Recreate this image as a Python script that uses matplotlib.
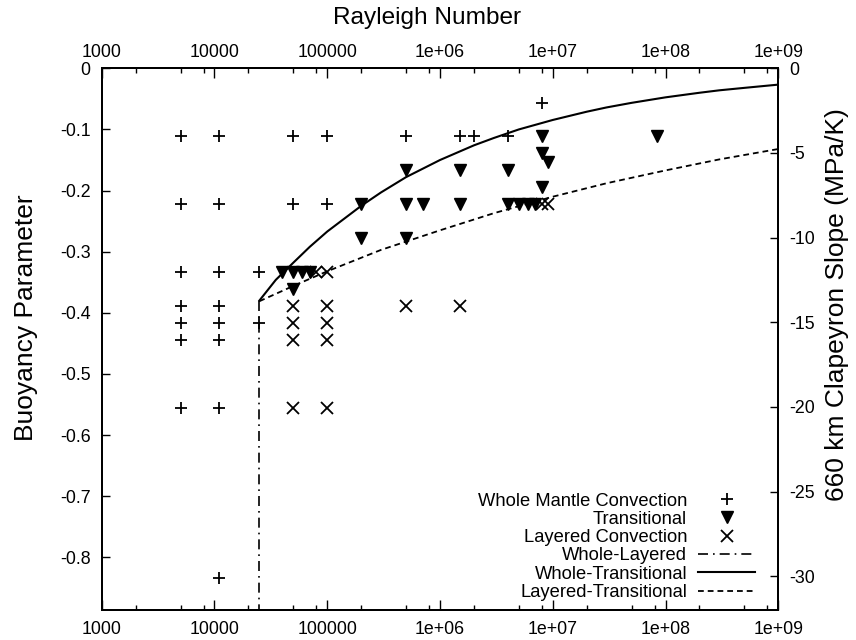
import matplotlib
matplotlib.use("Agg")
import matplotlib.pyplot as plt
from matplotlib.ticker import FixedLocator, FixedFormatter, NullFormatter

plt.rcParams['font.family'] = ['Liberation Sans', 'DejaVu Sans']
plt.rcParams['axes.unicode_minus'] = False

# ---------------- data ----------------
# Whole mantle convection (+)
whole_ra = [5e3, 1.1e4, 5e4, 1e5, 5e5, 1.5e6, 2e6, 4e6,
            5e3, 1.1e4, 5e4, 1e5,
            5e3, 1.1e4, 2.5e4,
            5e3, 1.1e4,
            5e3, 1.1e4, 2.5e4,
            5e3, 1.1e4,
            5e3, 1.1e4,
            1.1e4,
            8e6]
whole_b = [-0.111] * 8 + [-0.222] * 4 + [-0.333] * 3 + [-0.389] * 2 + \
          [-0.417] * 3 + [-0.444] * 2 + [-0.556] * 2 + [-0.833] + [-0.056]

# Transitional (filled down triangles)
trans_ra = [2e5, 5e5, 5e5, 7e5, 2e5, 5e5,
            4e4, 5e4, 6e4, 7e4, 5e4,
            1.5e6, 4e6, 8e6, 8e6, 9e6, 8e6, 8.4e7,
            1.5e6, 4e6, 5e6, 6e6, 7e6]
trans_b = [-0.222, -0.167, -0.222, -0.222, -0.278, -0.278,
           -0.333, -0.333, -0.333, -0.333, -0.361,
           -0.167, -0.167, -0.111, -0.139, -0.153, -0.194, -0.111,
           -0.222, -0.222, -0.222, -0.222, -0.222]

# Layered convection (x)
layer_ra = [8e4, 1e5, 5e4, 1e5, 5e5, 1.5e6, 5e4, 1e5, 5e4, 1e5, 5e4, 1e5, 8e6, 9e6]
layer_b = [-0.333, -0.333, -0.389, -0.389, -0.389, -0.389, -0.417, -0.417,
           -0.444, -0.444, -0.556, -0.556, -0.222, -0.222]

# Boundary curves
wl_ra = [2.5e4, 2.5e4]
wl_b = [-0.380, -0.90]

wt_ra = [2.5e4, 3.5e4, 5e4, 7e4, 1e5, 2e5, 3e5, 5e5, 1e6, 2e6, 3e6, 5e6,
         1e7, 2e7, 3e7, 5e7, 1e8, 2e8, 3e8, 5e8, 1e9]
wt_b = [-0.380, -0.346, -0.318, -0.292, -0.267, -0.225, -0.203, -0.178,
        -0.150, -0.126, -0.114, -0.100, -0.0845, -0.071, -0.064, -0.0565,
        -0.0475, -0.040, -0.036, -0.032, -0.0267]

lt_ra = [2.5e4, 5e4, 1e5, 3e5, 1e6, 3e6, 1e7, 3e7, 1e8, 3e8, 1e9]
lt_b = [-0.381, -0.356, -0.332, -0.297, -0.265, -0.237, -0.210, -0.188,
        -0.167, -0.149, -0.132]

x_ticks = [1e3, 1e4, 1e5, 1e6, 1e7, 1e8, 1e9]
x_labels = ['1000', '10000', '100000', '1e+06', '1e+07', '1e+08', '1e+09']
y_ticks = [0, -0.1, -0.2, -0.3, -0.4, -0.5, -0.6, -0.7, -0.8]
y_labels = ['0', '-0.1', '-0.2', '-0.3', '-0.4', '-0.5', '-0.6', '-0.7', '-0.8']
y2_ticks = [0, -5, -10, -15, -20, -25, -30]
y2_labels = ['0', '-5', '-10', '-15', '-20', '-25', '-30']

# ---------------- figure ----------------
fig = plt.figure(figsize=(8.56, 6.4), dpi=100)
ax_w = 778.3 - 101.7
ax_h = 610 - 68.3
ax = fig.add_axes([101.7 / 856, 30 / 640, ax_w / 856, ax_h / 640])

fs = 12.8
ax.plot(whole_ra, whole_b, linestyle='none', marker='+', markersize=8.5,
        markeredgewidth=1.3, color='black', label='Whole Mantle Convection')
ax.plot(trans_ra, trans_b, linestyle='none', marker='v', markersize=8.5,
        color='black', label='Transitional')
ax.plot(layer_ra, layer_b, linestyle='none', marker='x', markersize=8.5,
        markeredgewidth=1.3, color='black', label='Layered Convection')
ax.plot(wl_ra, wl_b, color='black', lw=1.2, dashes=(6, 3, 1, 3), label='Whole-Layered')
ax.plot(wt_ra, wt_b, color='black', lw=1.5, label='Whole-Transitional')
ax.plot(lt_ra, lt_b, color='black', lw=1.3, dashes=(3.2, 2.2), label='Layered-Transitional')

ax.set_xscale('log')
ax.set_xlim(1e3, 1e9)
ax.set_ylim(-0.886, 0)

minor = [m * 10 ** e for e in range(3, 9) for m in (2, 5, 8)]

ax.xaxis.set_major_locator(FixedLocator(x_ticks))
ax.xaxis.set_major_formatter(FixedFormatter(x_labels))
ax.xaxis.set_minor_locator(FixedLocator(minor))
ax.xaxis.set_minor_formatter(NullFormatter())
ax.yaxis.set_major_locator(FixedLocator(y_ticks))
ax.yaxis.set_major_formatter(FixedFormatter(y_labels))

ax.tick_params(axis='x', which='both', direction='in', top=False, labeltop=False,
               bottom=True, labelbottom=True, labelsize=fs, pad=8)
ax.tick_params(axis='x', which='major', length=7, width=1.0)
ax.tick_params(axis='x', which='minor', length=3.5, width=1.0)
ax.tick_params(axis='y', which='major', direction='in', length=6, width=1.0,
               labelsize=fs, pad=8, left=True, right=False)

# top axis (mirrored Rayleigh number scale)
top = ax.secondary_xaxis('top')
top.xaxis.set_major_locator(FixedLocator(x_ticks))
top.xaxis.set_major_formatter(FixedFormatter(x_labels))
top.xaxis.set_minor_locator(FixedLocator(minor))
top.xaxis.set_minor_formatter(NullFormatter())
top.tick_params(axis='x', which='both', direction='in', labelsize=fs, pad=5)
top.tick_params(axis='x', which='major', length=7, width=1.0)
top.tick_params(axis='x', which='minor', length=3.5, width=1.0)
top.spines['top'].set_linewidth(1.4)

for s in ax.spines.values():
    s.set_linewidth(1.4)

ax2 = ax.twinx()
ax2.set_ylim(-32.0, 0)
ax2.yaxis.set_major_locator(FixedLocator(y2_ticks))
ax2.yaxis.set_major_formatter(FixedFormatter(y2_labels))
ax2.tick_params(axis='y', which='major', direction='in', length=6, width=1.0,
                labelsize=fs, pad=8)
for s in ax2.spines.values():
    s.set_linewidth(1.4)

ax.set_ylabel('Buoyancy Parameter', fontsize=19)
ax.yaxis.set_label_coords(-(101.7 - 38) / ax_w, (610 - 318) / ax_h)
ax2.set_ylabel('660 km Clapeyron Slope (MPa/K)', fontsize=19)
ax2.yaxis.set_label_coords((825 - 101.7) / ax_w, (610 - 305) / ax_h)
fig.text(427 / 856, 1 - 18 / 640, 'Rayleigh Number', fontsize=17.6,
         ha='center', va='center')

leg = ax.legend(loc='lower right', bbox_to_anchor=((755 - 101.7) / ax_w, 9 / ax_h),
                markerfirst=False, frameon=False,
                fontsize=13.2, numpoints=1, handlelength=3.1, handletextpad=0.6,
                labelspacing=0.07, borderaxespad=0.0, borderpad=0.0)

fig.savefig('out.png', dpi=100)
